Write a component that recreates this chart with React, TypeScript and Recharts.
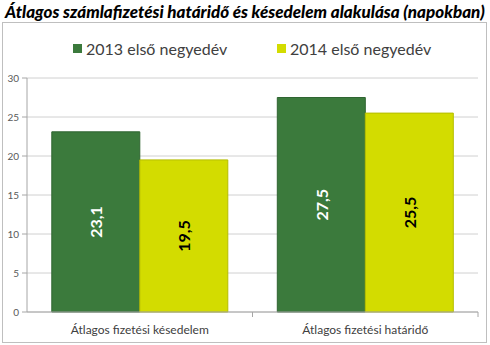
import { BarChart, Bar, XAxis, YAxis, CartesianGrid, LabelList } from 'recharts'

const categories = ['Átlagos fizetési késedelem', 'Átlagos fizetési határidő']
const series2013 = [23.1, 27.5]
const series2014 = [19.5, 25.5]
const yTicks = [0, 5, 10, 15, 20, 25, 30]
const seriesNames = ['2013 első negyedév', '2014 első negyedév']

const GREEN = '#3b7a3c'
const YELLOW = '#d3dc00'
const FONT = 'Lato, "Open Sans", sans-serif'

const data = categories.map((name, i) => ({ name, y2013: series2013[i], y2014: series2014[i] }))

const fmt = (v: any) => String(v).replace('.', ',')

// vertical label in the middle of a bar
const barLabel = (fill: string) => (props: any) => {
    const { x, y, width, height, value } = props
    const cx = x + width / 2
    const cy = y + height / 2
    return (
        <text
            x={cx}
            y={cy}
            transform={`rotate(-90 ${cx} ${cy})`}
            textAnchor="middle"
            dominantBaseline="central"
            fill={fill}
            fontSize={16}
            fontWeight={700}
            fontFamily={FONT}
        >
            {fmt(value)}
        </text>
    )
}

// category label plus the small tick marks at the band edges
const CategoryTick = (props: any) => {
    const { x, y, payload } = props
    const half = payload?.offset || 0
    return (
        <g>
            {half > 0 && <line x1={x + half} x2={x + half} y1={y - 8} y2={y - 3} stroke="#a6a6a6" />}
            <text x={x} y={y + 14} textAnchor="middle" fill="#404040" fontSize={12} fontFamily={FONT}>
                {payload.value}
            </text>
        </g>
    )
}

export default function App() {
    return (
        <div style={{ position: 'absolute', left: 0, top: 0, width: 490, height: 345, background: '#fff', fontFamily: FONT }}>
            <div style={{ position: 'absolute', left: 0, top: 1, width: 490, textAlign: 'center', fontSize: 17, fontWeight: 900, fontStyle: 'italic', color: '#000', whiteSpace: 'nowrap' }}>
                Átlagos számlafizetési határidő és késedelem alakulása (napokban)
            </div>
            <div style={{ position: 'absolute', left: 2, top: 22, width: 483, height: 319, border: '1px solid #bfbfbf' }} />
            <div style={{ position: 'absolute', left: 73, top: 39, display: 'flex', alignItems: 'center', fontSize: 16, color: '#404040' }}>
                <span style={{ width: 9, height: 9, background: GREEN, marginRight: 4 }} />
                {seriesNames[0]}
            </div>
            <div style={{ position: 'absolute', left: 277, top: 39, display: 'flex', alignItems: 'center', fontSize: 16, color: '#404040' }}>
                <span style={{ width: 9, height: 9, background: YELLOW, marginRight: 4 }} />
                {seriesNames[1]}
            </div>
            <div style={{ position: 'absolute', left: 0, top: 0 }}>
                <BarChart width={490} height={345} data={data} margin={{ top: 78, right: 12, bottom: 0, left: 0 }} barCategoryGap="11%" barGap={0}>
                    <CartesianGrid vertical={false} stroke="#d0d0d0" />
                    <XAxis
                        dataKey="name"
                        height={33}
                        tick={<CategoryTick />}
                        tickLine={false}
                        axisLine={{ stroke: '#a6a6a6' }}
                    />
                    <YAxis
                        width={27}
                        domain={[0, 30]}
                        ticks={yTicks}
                        tickSize={5}
                        tickMargin={3}
                        tick={{ fontSize: 10, fill: '#595959', fontFamily: FONT }}
                        tickLine={{ stroke: '#a6a6a6' }}
                        axisLine={{ stroke: '#a6a6a6' }}
                    />
                    <Bar dataKey="y2013" fill={GREEN} stroke="#2f6531" strokeWidth={1} isAnimationActive={false}>
                        <LabelList dataKey="y2013" content={barLabel('#ffffff')} />
                    </Bar>
                    <Bar dataKey="y2014" fill={YELLOW} stroke="#b5bd00" strokeWidth={1} isAnimationActive={false}>
                        <LabelList dataKey="y2014" content={barLabel('#000000')} />
                    </Bar>
                </BarChart>
            </div>
        </div>
    )
}
